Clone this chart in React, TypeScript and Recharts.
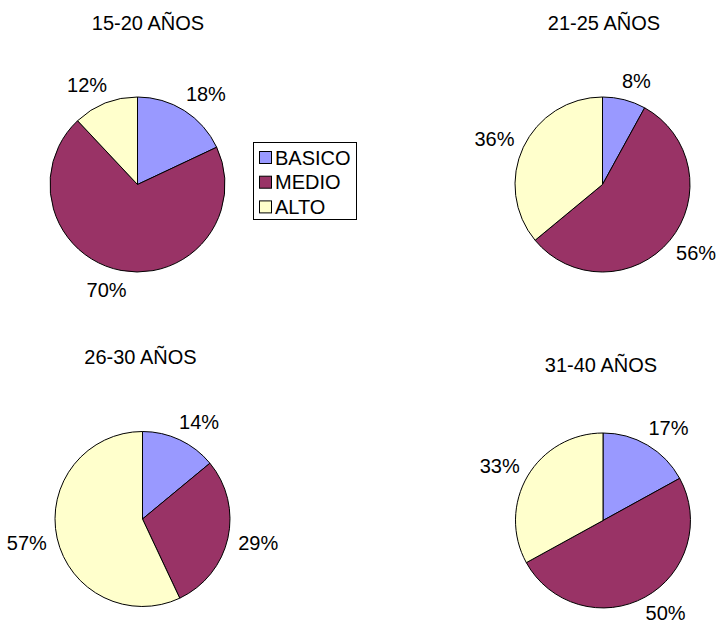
import { PieChart, Pie, Cell } from "recharts";

// education level split by age group (percent)
const CATEGORIES = ["BASICO", "MEDIO", "ALTO"];
const GROUPS = ["15-20 AÑOS", "21-25 AÑOS", "26-30 AÑOS", "31-40 AÑOS"];
const BASICO = [18, 8, 14, 17];
const MEDIO = [70, 56, 29, 50];
const ALTO = [12, 36, 57, 33];

const COLORS = ["#9999FF", "#993366", "#FFFFCC"];
const FONT = "'Liberation Sans', Arial, sans-serif";
const FS = 20;
const RADIUS = 87.5;
const W = 717;
const H = 623;

// pie centres and title anchors
const PANELS = [
  { cx: 137.5, cy: 184.5, tx: 148, ty: 30 },
  { cx: 602.5, cy: 184.5, tx: 604, ty: 30 },
  { cx: 142.5, cy: 519, tx: 140.5, ty: 364 },
  { cx: 603, cy: 520.5, tx: 601, ty: 371.5 },
];

const series = [BASICO, MEDIO, ALTO];

const groupData = GROUPS.map((g, gi) =>
  CATEGORIES.map((name, ci) => ({ name, value: series[ci][gi] }))
);

const renderLabel = (props: any) => {
  const { cx, cy, midAngle, outerRadius, value } = props;
  const rad = (-midAngle * Math.PI) / 180;
  const cos = Math.cos(rad);
  const sin = Math.sin(rad);
  const text = `${value}%`;
  const w = text.length * FS * 0.6;
  const r = outerRadius + 20;
  const x = cx + r * cos + Math.sign(cos) * w * 0.3;
  // keep the text inside the bottom edge
  const y = Math.min(cy + r * sin, H - FS * 0.36 - 3);
  return (
    <text
      x={x}
      y={y}
      dy={FS * 0.36}
      textAnchor="middle"
      fill="#000"
      fontFamily={FONT}
      fontSize={FS}
    >
      {text}
    </text>
  );
};

export default function App() {
  return (
    <div style={{ position: "absolute", left: 0, top: 0, background: "#fff" }}>
      <PieChart width={W} height={H} margin={{ top: 0, right: 0, bottom: 0, left: 0 }}>
        {groupData.map((data, gi) => (
          <Pie
            key={GROUPS[gi]}
            data={data}
            dataKey="value"
            nameKey="name"
            cx={PANELS[gi].cx}
            cy={PANELS[gi].cy}
            outerRadius={RADIUS}
            startAngle={90}
            endAngle={-270}
            stroke="#000"
            strokeWidth={1}
            label={renderLabel}
            labelLine={false}
            isAnimationActive={false}
          >
            {data.map((d, i) => (
              <Cell key={d.name} fill={COLORS[i]} />
            ))}
          </Pie>
        ))}

        {GROUPS.map((g, gi) => (
          <text
            key={g}
            x={PANELS[gi].tx}
            y={PANELS[gi].ty}
            textAnchor="middle"
            fill="#000"
            fontFamily={FONT}
            fontSize={FS}
          >
            {g}
          </text>
        ))}

        {/* legend box */}
        <g>
          <rect x={253.5} y={142.5} width={103} height={77} fill="#fff" stroke="#000" strokeWidth={1} />
          {CATEGORIES.map((c, i) => (
            <g key={c}>
              <rect
                x={259.5}
                y={151.5 + i * 24.7}
                width={12}
                height={12}
                fill={COLORS[i]}
                stroke="#000"
                strokeWidth={1}
              />
              <text
                x={275}
                y={164.5 + i * 24.7}
                fill="#000"
                fontFamily={FONT}
                fontSize={FS}
              >
                {c}
              </text>
            </g>
          ))}
        </g>
      </PieChart>
    </div>
  );
}
